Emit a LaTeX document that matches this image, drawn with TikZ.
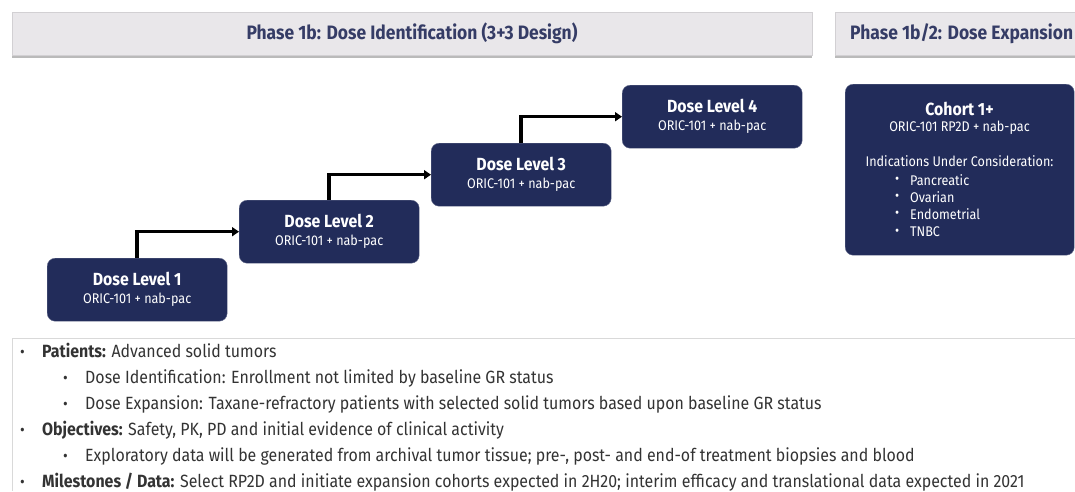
\documentclass[tikz,border=0pt]{standalone}
\usepackage{fontspec}
\setmainfont{Fira Sans}[FakeStretch=0.9]
\usetikzlibrary{shadows,arrows.meta}
\definecolor{navy}{HTML}{222C5A}
\definecolor{hdrfill}{HTML}{E9E7EA}
\definecolor{hdrtext}{HTML}{353C66}
\definecolor{bodytext}{HTML}{333333}
\newcommand{\dtitle}{\fontsize{17.6}{20}\selectfont\bfseries}
\newcommand{\dsub}{\fontsize{14}{16}\selectfont}
\tikzset{
  hdr/.style={fill=hdrfill, draw=hdrfill!90!black, line width=0.3pt, anchor=north west, inner sep=0pt,
    drop shadow={shadow xshift=0pt, shadow yshift=-3pt, fill=black!45, opacity=0.6}},
  hdrtxt/.style={text=hdrtext, font=\fontsize{19.4}{22}\selectfont\bfseries},
  dose/.style={fill=navy, draw=navy!70!white, rounded corners=8pt, anchor=north west,
    minimum width=180pt, minimum height=63pt, text=white, align=center, inner sep=0pt, font=\dsub},
  flow/.style={draw=black, line width=3.5pt, -{Triangle[length=7pt,width=9pt]}},
  bul/.style={anchor=base west, inner sep=0pt, text=bodytext, font=\fontsize{17.7}{21}\selectfont},
  dot/.style={anchor=base west, inner sep=0pt, text=bodytext, font=\fontsize{16}{19}\selectfont},
}
\begin{document}
\begin{tikzpicture}[x=1pt,y=1pt]
\useasboundingbox (0,0) rectangle (1075,-491);
% headers
\node[hdr, minimum width=800pt, minimum height=43pt] (h1) at (12,-12) {};
\node[hdrtxt] (h1t) at (412,-33.5) {Phase 1b: Dose Identification (3+3 Design)};
\node[hdr, minimum width=260pt, minimum height=43pt] (h2) at (835,-12) {};
\node[hdrtxt, anchor=west, inner sep=0pt] (h2t) at (850,-33.5) {Phase 1b/2: Dose Expansion};
% dose boxes
\node[dose] (d1) at (47,-258) {{\dtitle Dose Level 1}\\[2pt]ORIC-101 + nab-pac};
\node[dose] (d2) at (239,-200) {{\dtitle Dose Level 2}\\[2pt]ORIC-101 + nab-pac};
\node[dose] (d3) at (431,-143) {{\dtitle Dose Level 3}\\[2pt]ORIC-101 + nab-pac};
\node[dose] (d4) at (622,-85) {{\dtitle Dose Level 4}\\[2pt]ORIC-101 + nab-pac};
\draw[flow] (d1.north) |- (d2.west);
\draw[flow] (d2.north) |- (d3.west);
\draw[flow] (d3.north) |- (d4.west);
% cohort
\node[dose, minimum width=229pt, minimum height=171pt] (c1) at (845,-84) {};
\node[text=white, font=\dtitle] (c1a) at (959.5,-109) {Cohort 1+};
\node[text=white, font=\dsub] (c1b) at (959.5,-128) {ORIC-101 RP2D + nab-pac};
\node[text=white, font=\dsub] (c1c) at (959.5,-161) {Indications Under Consideration:};
\foreach \t/\y [count=\i] in {Pancreatic/180,Ovarian/197,Endometrial/214,TNBC/232}{
  \node[text=white, font=\dsub, anchor=west, inner sep=0pt] (cb\i) at (895,-\y) {\textbullet};
  \node[text=white, font=\dsub, anchor=west, inner sep=0pt] (ct\i) at (910,-\y) {\t};
}
% bottom text area
\draw[black!15, line width=1pt] (1075,-338) -- (12,-338) -- (12,-491);
\node[dot] (b1) at (20,-357) {\textbullet};
\node[bul] (t1) at (42,-357) {\textbf{Patients:} Advanced solid tumors};
\node[dot] (b2) at (63,-383) {\textbullet};
\node[bul] (t2) at (85,-383) {Dose Identification: Enrollment not limited by baseline GR status};
\node[dot] (b3) at (63,-409) {\textbullet};
\node[bul] (t3) at (85,-409) {Dose Expansion: Taxane-refractory patients with selected solid tumors based upon baseline GR status};
\node[dot] (b4) at (20,-435) {\textbullet};
\node[bul] (t4) at (42,-435) {\textbf{Objectives:} Safety, PK, PD and initial evidence of clinical activity};
\node[dot] (b5) at (63,-461) {\textbullet};
\node[bul] (t5) at (85,-461) {Exploratory data will be generated from archival tumor tissue; pre-, post- and end-of treatment biopsies and blood};
\node[dot] (b6) at (20,-487) {\textbullet};
\node[bul] (t6) at (42,-487) {\textbf{Milestones / Data:} Select RP2D and initiate expansion cohorts expected in 2H20; interim efficacy and translational data expected in 2021};
\end{tikzpicture}
\end{document}
